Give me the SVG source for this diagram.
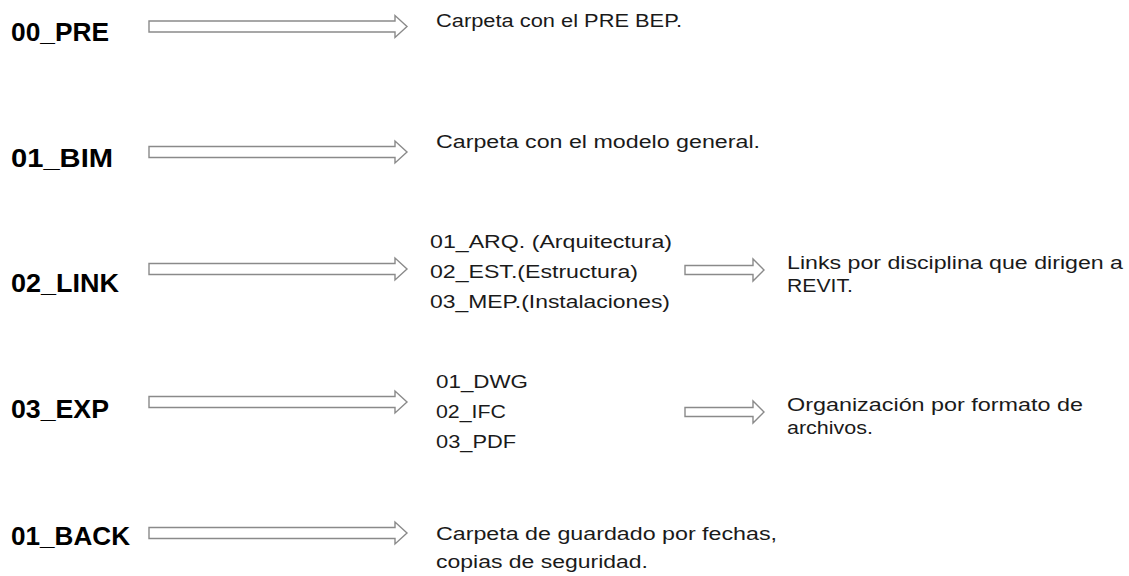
<svg xmlns="http://www.w3.org/2000/svg" xmlns:xlink="http://www.w3.org/1999/xlink" width="1129" height="576" viewBox="0 0 1129 576">
<style>
.lbl{font-family:"Liberation Sans",Arial,sans-serif;font-weight:bold;font-size:26px;fill:#000}
.txt{font-family:"Liberation Sans",Arial,sans-serif;font-size:17.5px;fill:#1a1a1a}
.arr{fill:#fff;stroke:#8a8a8a;stroke-width:1.4;stroke-linejoin:miter}
</style>
<defs>
<path id="big" d="M0,-5.5 H246 V-11 L258,0 L246,11 V5.5 H0 Z"/>
<path id="small" d="M0,-4.5 H68 V-11 L79,0 L68,11 V4.5 H0 Z"/>
</defs>
<rect width="1129" height="576" fill="#fff"/>
<g id="connectors">
<use xlink:href="#big" class="arr" transform="translate(149,26.5)"/>
<use xlink:href="#big" class="arr" transform="translate(149,152)"/>
<use xlink:href="#big" class="arr" transform="translate(149,269)"/>
<use xlink:href="#big" class="arr" transform="translate(149,402)"/>
<use xlink:href="#big" class="arr" transform="translate(149,533)"/>
<use xlink:href="#small" class="arr" transform="translate(685,270)"/>
<use xlink:href="#small" class="arr" transform="translate(685,412)"/>
</g>
<g id="row-00-pre">
<text class="lbl" x="11" y="40.5" textLength="98" lengthAdjust="spacingAndGlyphs">00_PRE</text>
<text class="txt" x="436" y="26.5" textLength="246" lengthAdjust="spacingAndGlyphs">Carpeta con el PRE BEP.</text>
</g>
<g id="row-01-bim">
<text class="lbl" x="11" y="166.5" textLength="102" lengthAdjust="spacingAndGlyphs">01_BIM</text>
<text class="txt" x="436" y="148" textLength="324" lengthAdjust="spacingAndGlyphs">Carpeta con el modelo general.</text>
</g>
<g id="row-02-link">
<text class="lbl" x="11" y="292" textLength="108" lengthAdjust="spacingAndGlyphs">02_LINK</text>
<text class="txt" x="430" y="248" textLength="242" lengthAdjust="spacingAndGlyphs">01_ARQ. (Arquitectura)</text>
<text class="txt" x="430" y="278" textLength="208" lengthAdjust="spacingAndGlyphs">02_EST.(Estructura)</text>
<text class="txt" x="430" y="308" textLength="240" lengthAdjust="spacingAndGlyphs">03_MEP.(Instalaciones)</text>
<text class="txt" x="787" y="269" textLength="336" lengthAdjust="spacingAndGlyphs">Links por disciplina que dirigen a</text>
<text class="txt" x="787" y="292" textLength="66" lengthAdjust="spacingAndGlyphs">REVIT.</text>
</g>
<g id="row-03-exp">
<text class="lbl" x="11" y="418" textLength="98" lengthAdjust="spacingAndGlyphs">03_EXP</text>
<text class="txt" x="436" y="388" textLength="92" lengthAdjust="spacingAndGlyphs">01_DWG</text>
<text class="txt" x="436" y="418" textLength="70" lengthAdjust="spacingAndGlyphs">02_IFC</text>
<text class="txt" x="436" y="448" textLength="80" lengthAdjust="spacingAndGlyphs">03_PDF</text>
<text class="txt" x="787" y="410.5" textLength="296" lengthAdjust="spacingAndGlyphs">Organización por formato de</text>
<text class="txt" x="787" y="434" textLength="86" lengthAdjust="spacingAndGlyphs">archivos.</text>
</g>
<g id="row-01-back">
<text class="lbl" x="11" y="545" textLength="119" lengthAdjust="spacingAndGlyphs">01_BACK</text>
<text class="txt" x="436" y="540" textLength="341" lengthAdjust="spacingAndGlyphs">Carpeta de guardado por fechas,</text>
<text class="txt" x="436" y="568" textLength="212" lengthAdjust="spacingAndGlyphs">copias de seguridad.</text>
</g>
</svg>
